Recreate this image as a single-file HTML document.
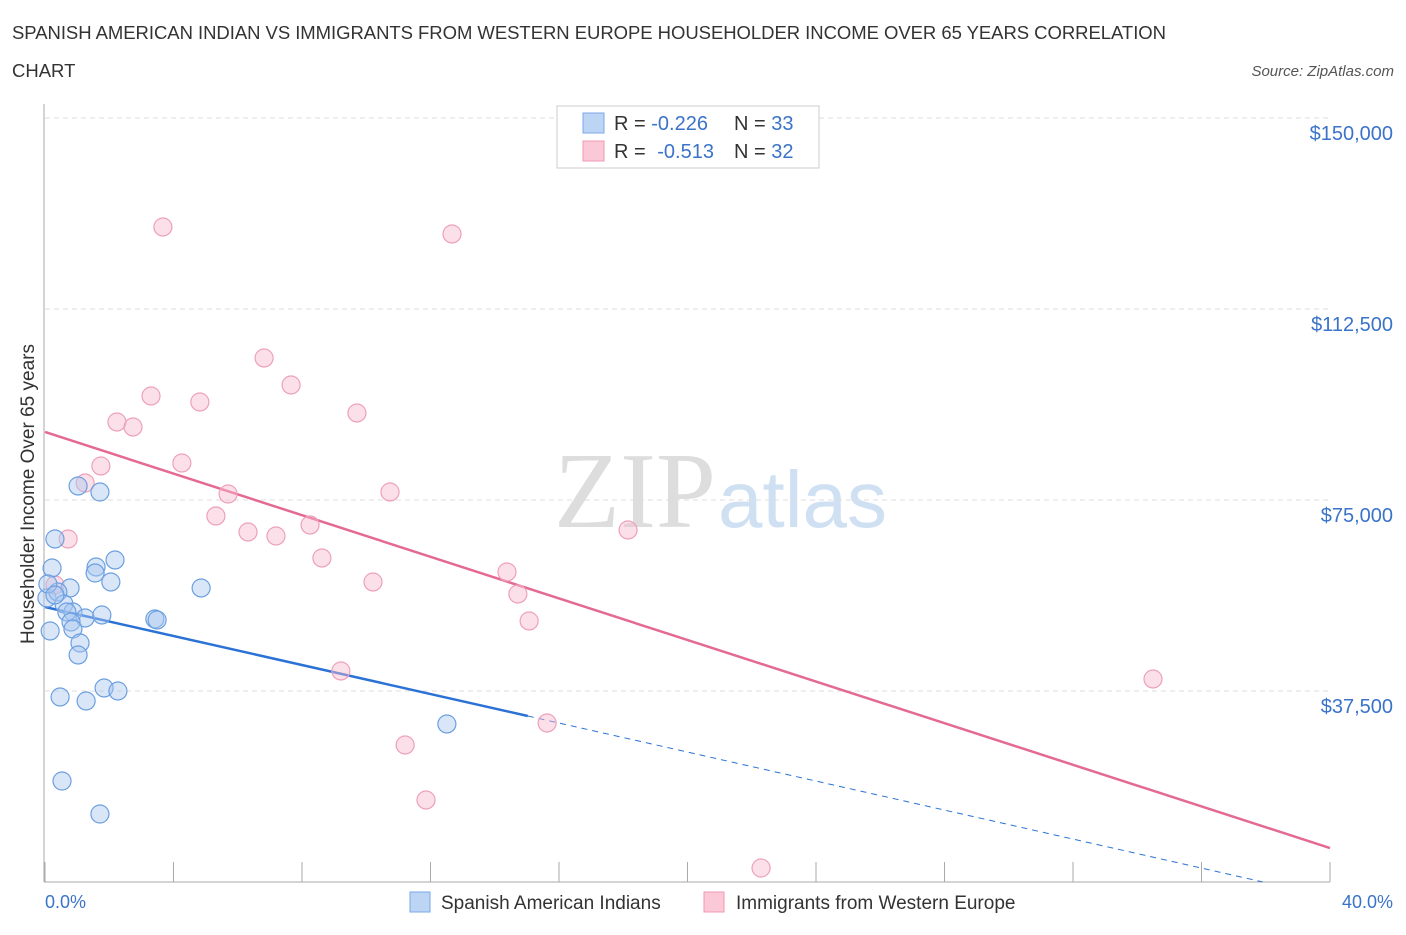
<!DOCTYPE html>
<html><head><meta charset="utf-8"><style>
body{margin:0;background:#fff;font-family:"Liberation Sans",sans-serif;}
</style></head><body>
<svg id="chart" width="1406" height="930" xmlns="http://www.w3.org/2000/svg" style="font-family:'Liberation Sans',sans-serif">
<text x="12" y="39" font-size="18.5" fill="#333" textLength="1154">SPANISH AMERICAN INDIAN VS IMMIGRANTS FROM WESTERN EUROPE HOUSEHOLDER INCOME OVER 65 YEARS CORRELATION</text>
<text x="12" y="77" font-size="18.5" fill="#333">CHART</text>
<text x="1394" y="76" font-size="15" fill="#555" text-anchor="end" font-style="italic">Source: ZipAtlas.com</text>
<text x="716" y="527" font-size="108" text-anchor="end" fill="#ddd" font-family="Liberation Serif">ZIP</text>
<text x="718" y="527" font-size="80" fill="#cfe0f3">atlas</text>
<g id="grid"></g>
<g id="axes"></g>
<g id="lines"></g>
<g id="points"></g>
<text transform="translate(34,494) rotate(-90)" font-size="19" fill="#333" text-anchor="middle">Householder Income Over 65 years</text>
<text x="45" y="908" font-size="18" fill="#3a73c9">0.0%</text>
<text x="1393" y="908" font-size="18" fill="#3a73c9" text-anchor="end">40.0%</text>
<g>
<rect x="557" y="106" width="262" height="62" fill="#fff" stroke="#ccc"/>
<rect x="583" y="113" width="21" height="20" fill="#bcd5f5" stroke="#7aa7e6"/>
<rect x="583" y="141" width="21" height="20" fill="#fac8d6" stroke="#f09ab3"/>
<text x="614" y="130" font-size="20" fill="#333">R = <tspan fill="#3a73c9">-0.226</tspan><tspan x="734">N = </tspan><tspan fill="#3a73c9">33</tspan></text>
<text x="614" y="158" font-size="20" fill="#333">R = <tspan fill="#3a73c9" dx="6">-0.513</tspan><tspan x="734">N = </tspan><tspan fill="#3a73c9">32</tspan></text>
</g>
<g>
<rect x="410" y="892" width="20" height="20" fill="#bcd5f5" stroke="#7aa7e6"/>
<text x="441" y="909" font-size="19" fill="#333">Spanish American Indians</text>
<rect x="704" y="892" width="20" height="20" fill="#fac8d6" stroke="#f09ab3"/>
<text x="736" y="909" font-size="19" fill="#333">Immigrants from Western Europe</text>
</g>
</svg>
<script>
const yTicks=[37500,75000,112500,150000];
const yTickLabels=["$37,500","$75,000","$112,500","$150,000"];
const xTicks=[0,4,8,12,16,20,24,28,32,36,40];
const blueX=[1.03,1.71,0.31,1.59,2.18,1.56,2.05,0.22,0.78,0.06,0.40,0.59,0.87,0.68,1.25,1.77,0.81,0.87,0.16,1.09,1.03,3.42,3.49,4.86,1.84,2.27,0.47,1.28,0.53,1.71,12.51,0.09,0.31];
const blueY=[77750,76570,67345,61847,63221,60666,58902,61651,57724,55761,56939,54583,53012,53012,51834,52423,51049,49674,49282,46926,44570,51638,51441,57724,38090,37501,36323,35538,19830,13351,31022,58509,56350];
const pinkX=[3.67,12.67,6.82,7.66,3.30,4.82,9.71,2.24,2.74,1.74,4.26,1.25,5.70,10.74,5.32,6.32,7.19,8.25,18.15,0.72,8.62,14.38,10.21,0.31,14.72,15.07,9.21,34.49,15.63,11.21,11.86,22.29];
const pinkY=[128603,127229,102882,97581,95421,94243,92083,90316,89335,81677,82266,78340,76180,76573,71860,68719,67934,70094,69112,67345,63614,60866,58902,58313,56546,51245,41428,39857,31218,26899,16100,2749];
const blueTrend=[53994,-1424];
const pinkTrend=[88353,-2042];
const NS="http://www.w3.org/2000/svg";
const xs=v=>45+v/40*1285;
const ys=v=>882-v/37500*191;
function mk(tag,attrs,parent){const e=document.createElementNS(NS,tag);for(const k in attrs)e.setAttribute(k,attrs[k]);document.getElementById(parent).appendChild(e);return e;}
yTicks.forEach((t,i)=>{
 const g=mk('line',{x1:45,x2:1330,y1:ys(t),y2:ys(t),stroke:'#ddd','stroke-dasharray':'5,4'},'grid');
 
 
 const l=mk('text',{x:1393,y:ys(t)+22,'font-size':20,fill:'#3a73c9','text-anchor':'end'},'axes');
 l.textContent=yTickLabels[i];
 
 
});
const ax=mk('line',{x1:44,x2:44,y1:104,y2:882,stroke:'#aaa'},'axes');


const bx=mk('line',{x1:44,x2:1330,y1:882,y2:882,stroke:'#aaa'},'axes');


xTicks.forEach(t=>{
 const k=mk('line',{x1:xs(t),x2:xs(t),y1:862,y2:882,stroke:'#aaa'},'axes');
 
 
});
const ly=(tr,x)=>ys(tr[0]+tr[1]*x);
const b1=mk('line',{x1:xs(0),y1:ly(blueTrend,0),x2:xs(15.03),y2:ly(blueTrend,15.03),stroke:'#2b72d6','stroke-width':2.5},'lines');


const b2=mk('line',{x1:xs(15.03),y1:ly(blueTrend,15.03),x2:xs(37.9),y2:ly(blueTrend,37.9),stroke:'#2b72d6','stroke-width':1,'stroke-dasharray':'6,5'},'lines');


const p1=mk('line',{x1:xs(0),y1:ly(pinkTrend,0),x2:xs(40),y2:ly(pinkTrend,40),stroke:'#e46a93','stroke-width':2.5},'lines');


pinkX.forEach((x,i)=>{
 const c=mk('circle',{cx:xs(x),cy:ys(pinkY[i]),r:9,fill:'rgba(248,187,206,0.45)',stroke:'#eea0b9','stroke-width':1.2},'points');
 
 
});
blueX.forEach((x,i)=>{
 const c=mk('circle',{cx:xs(x),cy:ys(blueY[i]),r:9,fill:'rgba(170,200,240,0.45)',stroke:'#6b9fe0','stroke-width':1.2},'points');
 
 
});
</script>
</body></html>
